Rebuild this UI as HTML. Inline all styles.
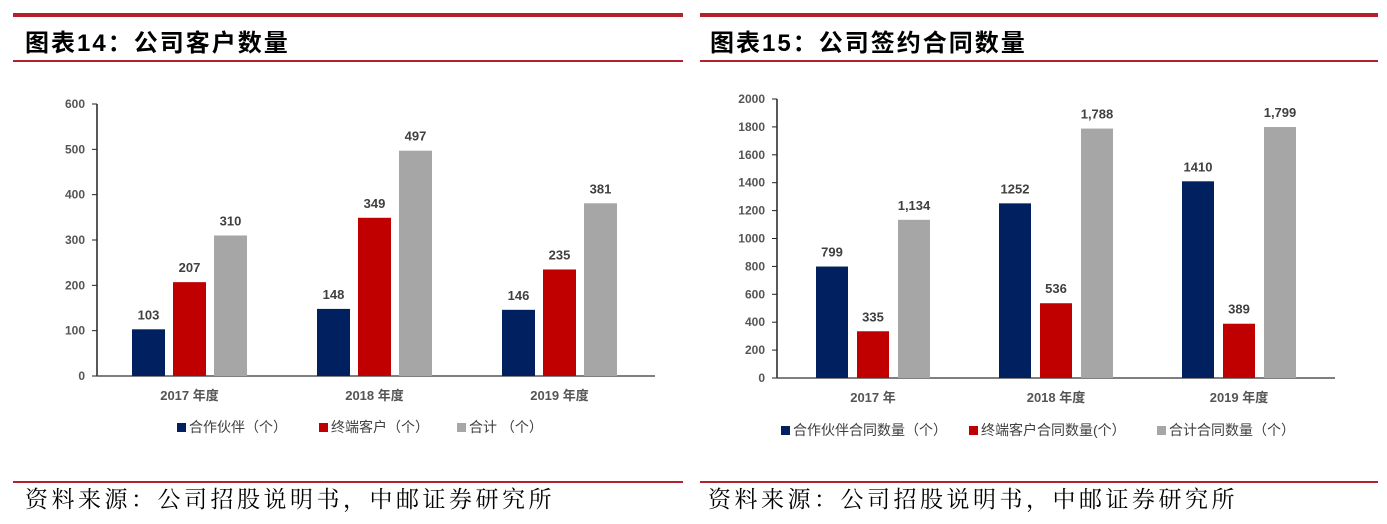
<!DOCTYPE html>
<html><head><meta charset="utf-8">
<style>
body{margin:0;width:1387px;height:524px;background:#fff;overflow:hidden;font-family:"Liberation Sans","Noto Sans CJK SC",sans-serif;}
svg{position:absolute;left:0;top:0}
</style></head>
<body>
<svg width="1387" height="524">
<g>
<rect x="13" y="13" width="670" height="4" fill="#b5202e"/>
<text x="25" y="51" font-size="24" letter-spacing="2" font-weight="bold" font-family="Liberation Sans,Noto Sans CJK SC,sans-serif">图表14：公司客户数量</text>
<rect x="13" y="60" width="670" height="2" fill="#b5202e"/>
</g>
<g>
<rect x="700" y="13" width="678" height="4" fill="#b5202e"/>
<text x="710" y="51" font-size="24" letter-spacing="2" font-weight="bold" font-family="Liberation Sans,Noto Sans CJK SC,sans-serif">图表15：公司签约合同数量</text>
<rect x="700" y="60" width="678" height="2" fill="#b5202e"/>
</g>
<rect x="13" y="481" width="670" height="2" fill="#b5202e"/>
<rect x="700" y="481" width="678" height="2" fill="#b5202e"/>
<text x="25" y="507" font-size="23" letter-spacing="3.5" font-family="Noto Serif CJK SC,serif">资料来源：公司招股说明书，中邮证券研究所</text>
<text x="708" y="507" font-size="23" letter-spacing="3.5" font-family="Noto Serif CJK SC,serif">资料来源：公司招股说明书，中邮证券研究所</text>
<g id="c1"></g><g id="c2"></g>
</svg>
<script>
const cats1=["2017 年度","2018 年度","2019 年度"];
const partner1=[103,148,146];
const terminal1=[207,349,235];
const total1=[310,497,381];
const ticks1=[0,100,200,300,400,500,600];
const lbl1=[["103","207","310"],["148","349","497"],["146","235","381"]];
const legend1=["合作伙伴（个）","终端客户（个）","合计 （个）"];

const cats2=["2017 年","2018 年度","2019 年度"];
const partner2=[799,1252,1410];
const terminal2=[335,536,389];
const total2=[1134,1788,1799];
const ticks2=[0,200,400,600,800,1000,1200,1400,1600,1800,2000];
const lbl2=[["799","335","1,134"],["1252","536","1,788"],["1410","389","1,799"]];
const legend2=["合作伙伴合同数量（个）","终端客户合同数量(个）","合计合同数量（个）"];

const colors=["#002060","#c00000","#a6a6a6"];
const NS="http://www.w3.org/2000/svg";
function mk(p,t,a,txt){const e=document.createElementNS(NS,t);for(const k in a)e.setAttribute(k,a[k]);if(txt!=null)e.textContent=txt;p.appendChild(e);return e;}

function draw(g,o,cats,series,ticks,lbls,legend){
  const y=v=>o.y0-(v-ticks[0])/(ticks[ticks.length-1]-ticks[0])*(o.y0-o.y1);
  const x=(i,s)=>o.x0+o.first+i*o.step+s*o.bstep;
  const ax=mk(g,"line",{x1:o.x0,y1:o.y1,x2:o.x0,y2:o.y0,stroke:"#222","stroke-width":1.5});
  
  
  const xa=mk(g,"line",{x1:o.x0,y1:o.y0,x2:o.xe,y2:o.y0,stroke:"#555","stroke-width":1.5});
  
  
  ticks.forEach(t=>{
    mk(g,"line",{x1:o.x0-5,y1:y(t),x2:o.x0,y2:y(t),stroke:"#222"});
    const tl=mk(g,"text",{x:o.x0-12,y:y(t)+4,"font-size":12,"font-weight":"bold",fill:"#555","text-anchor":"end"},t);
    
    
  });
  cats.forEach((c,i)=>{
    series.forEach((s,j)=>{
      const b=mk(g,"rect",{x:x(i,j),y:y(s[i]),width:o.bw,height:o.y0-y(s[i]),fill:colors[j]});
      
      
      const v=mk(g,"text",{x:x(i,j)+o.bw/2,y:y(s[i])-10,"font-size":13,"font-weight":"bold",fill:"#404040","text-anchor":"middle"},lbls[i][j]);
      
      
    });
    const cl=mk(g,"text",{x:x(i,1)+o.bw/2,y:o.y0+24,"font-size":13,"font-weight":"bold",fill:"#555","text-anchor":"middle"},c);
    
    
  });
  legend.forEach((l,j)=>{
    const r=mk(g,"rect",{x:o.lx[j],y:o.ly-9,width:9,height:9,fill:colors[j]});
    
    
    const t=mk(g,"text",{x:o.lx[j]+12,y:o.ly,"font-size":14,fill:"#404040"},l);
    
    
  });
}
draw(document.getElementById("c1"),{x0:97,xe:655,y0:376,y1:104,first:35,step:185,bstep:41,bw:33,lx:[177,319,457],ly:432},cats1,[partner1,terminal1,total1],ticks1,lbl1,legend1);
draw(document.getElementById("c2"),{x0:777,xe:1335,y0:378,y1:99,first:39,step:183,bstep:41,bw:32,lx:[781,969,1157],ly:435},cats2,[partner2,terminal2,total2],ticks2,lbl2,legend2);
</script>
</body></html>
